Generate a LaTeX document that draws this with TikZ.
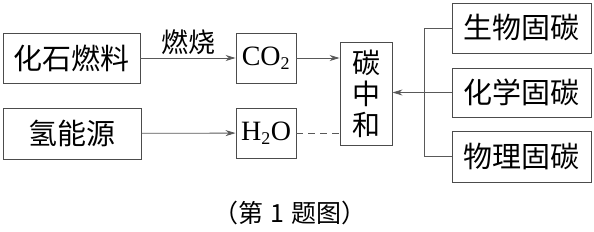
\documentclass[tikz,border=0pt]{standalone}
\usepackage{fontspec}
\setmainfont{Liberation Serif}
\newfontfamily\cjk{Noto Sans CJK SC}
\usetikzlibrary{arrows.meta}
\begin{document}
\begin{tikzpicture}[x=1pt,y=-1pt,
  box/.style={draw=black!70,line width=0.9pt,inner sep=0pt,font=\cjk\fontsize{29}{31}\selectfont},
  conn/.style={draw=black!65,line width=0.8pt},
  arr/.style={conn,-{Stealth[length=10pt,width=6pt]}}]
\useasboundingbox (0,0) rectangle (594,231);
\node[box,minimum width=137pt,minimum height=50pt] (fossil) at (71.5,58) {化石燃料};
\node[box,minimum width=138pt,minimum height=51pt] (hyd) at (72,133.5) {氢能源};
\node[box,minimum width=60pt,minimum height=50pt,font=\fontsize{28}{30}\selectfont] (co2) at (266,58) {CO\textsubscript{\fontsize{18}{18}\selectfont 2}};
\node[box,minimum width=60pt,minimum height=50pt,font=\fontsize{28}{30}\selectfont] (h2o) at (266,133) {H\textsubscript{\fontsize{18}{18}\selectfont 2}O};
\node[box,minimum width=52pt,minimum height=103pt,align=center,font=\cjk\fontsize{28}{31}\selectfont] (cn) at (366,93.5) {碳\\中\\和};
\node[box,minimum width=139pt,minimum height=50pt] (bio) at (521.5,28) {生物固碳};
\node[box,minimum width=139pt,minimum height=49pt] (chem) at (521.5,92.5) {化学固碳};
\node[box,minimum width=139pt,minimum height=51pt] (phys) at (521.5,156.5) {物理固碳};
\coordinate (j1) at (424,28);
\coordinate (j3) at (424,156.5);
\draw[arr] (fossil) -- node[above=0pt,font=\cjk\fontsize{27}{29}\selectfont] (burn) {燃烧} (co2);
\draw[arr] (hyd) -- (h2o);
\draw[arr] (co2.east) -- (cn.west |- co2.east);
\draw[conn,dashed,dash pattern=on 7pt off 5pt] (h2o.east) -- (cn.west |- h2o.east);
\draw[conn] (bio.west) -- (j1) -- (j3) -- (phys.west);
\draw[arr] (chem.west) -- (cn.east |- chem.west);
\node[font=\cjk\fontsize{25}{27}\selectfont] (cap) at (290,213) {（第\hspace{7pt}1\hspace{7pt}题图）};
\end{tikzpicture}
\end{document}
